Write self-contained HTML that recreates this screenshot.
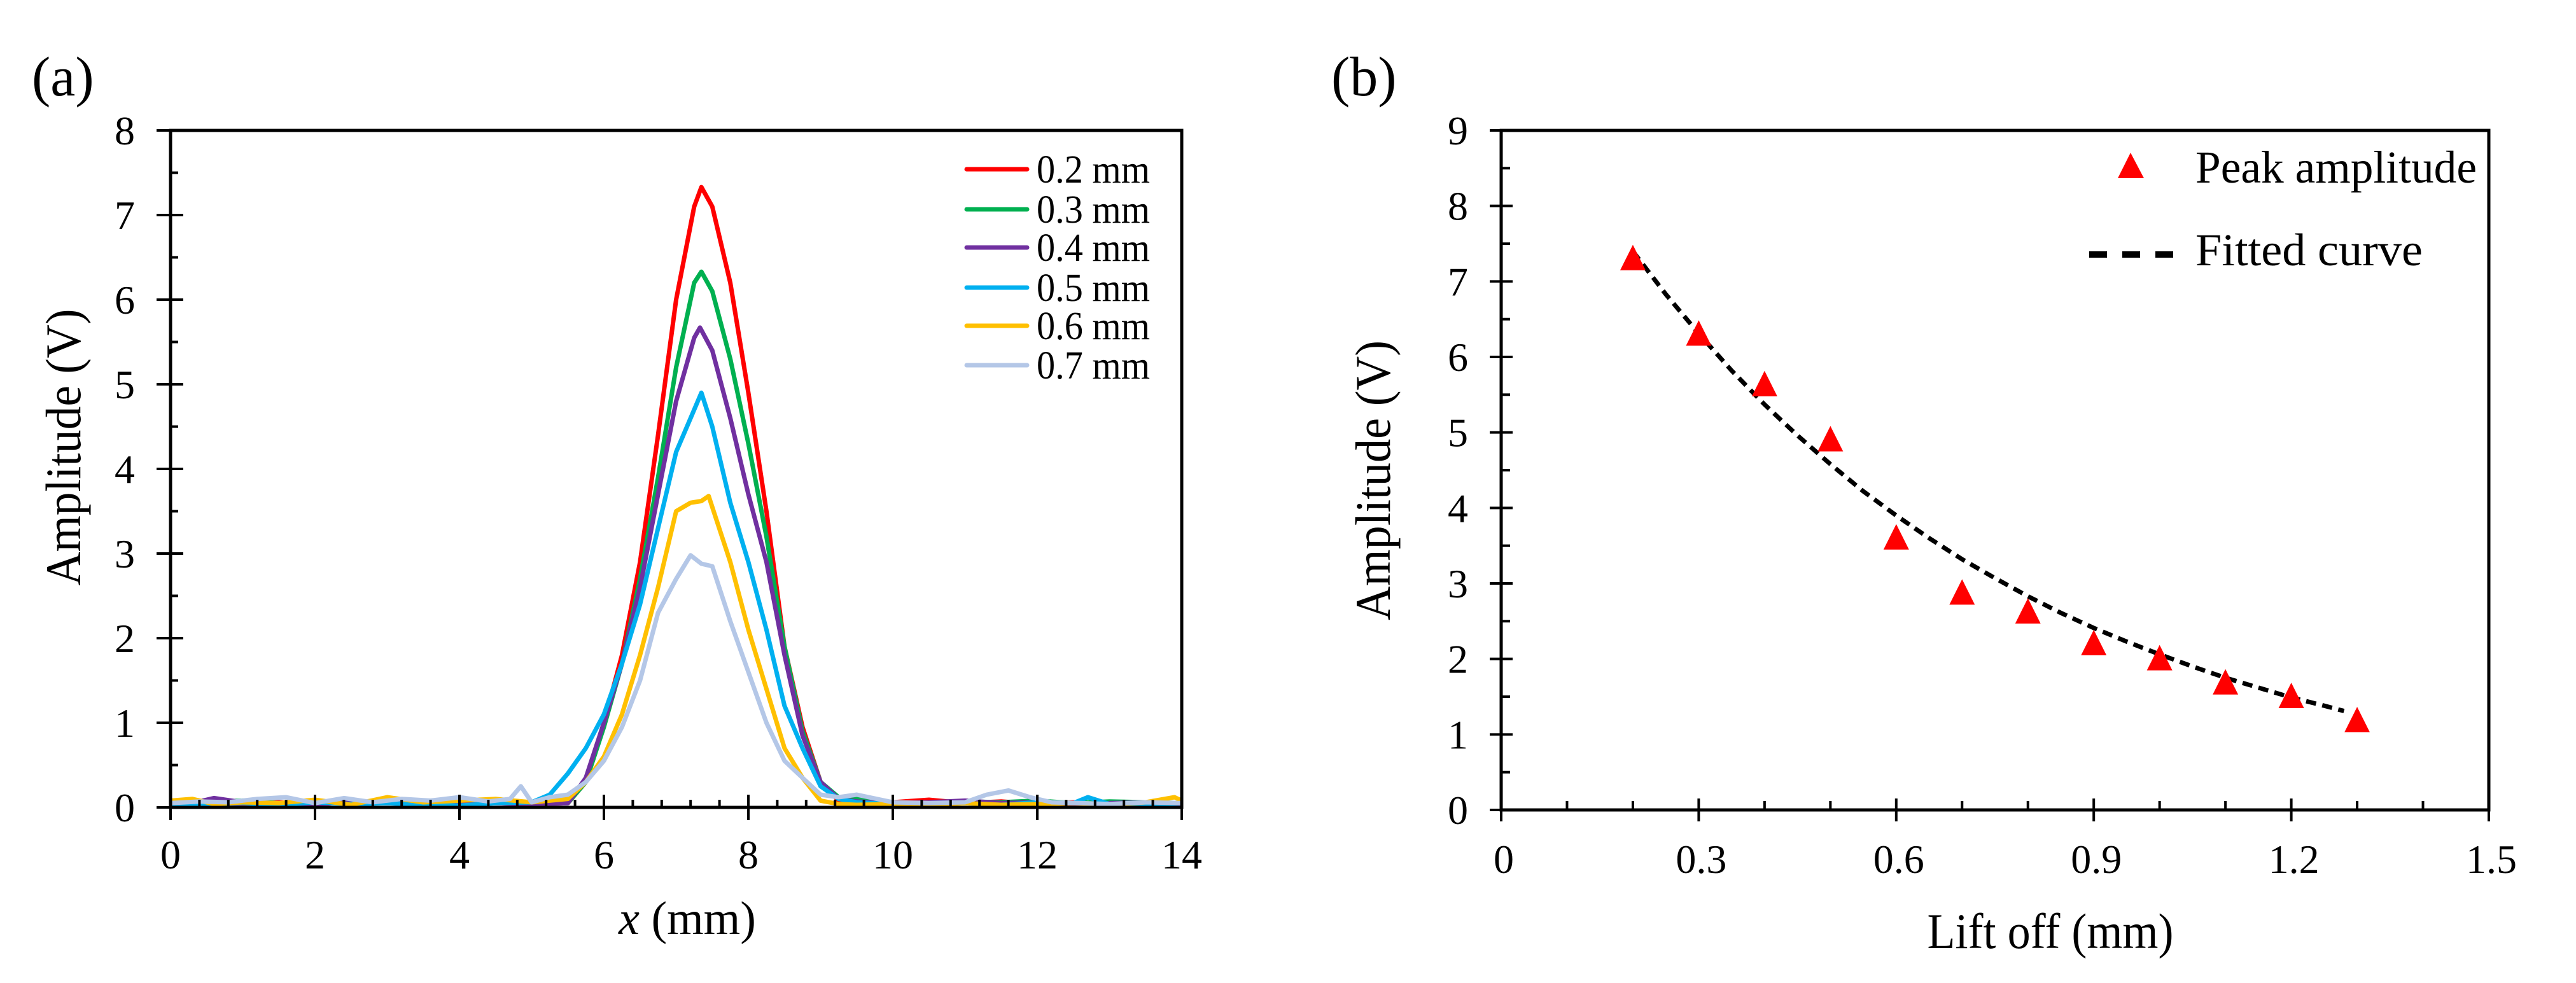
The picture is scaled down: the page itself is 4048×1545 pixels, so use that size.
<!DOCTYPE html>
<html><head><meta charset="utf-8"><style>
html,body{margin:0;padding:0;background:#fff;}
svg,text{font-family:"Liberation Serif","Times New Roman",serif;}
</style></head><body>
<svg id="fig" width="4048" height="1540" viewBox="0 0 4048 1540" xmlns="http://www.w3.org/2000/svg" font-family="Liberation Serif, serif">
<text x="50" y="150" font-size="88" font-family="Liberation Serif, serif">(a)</text>
<text x="2092" y="150" font-size="88" font-family="Liberation Serif, serif">(b)</text>
<g id="pa"></g>
<g id="pb"></g>
</svg>
<script>
// ---------- Panel (a) data ----------
const seriesNames = ["0.2 mm","0.3 mm","0.4 mm","0.5 mm","0.6 mm","0.7 mm"];
const seriesColors = ["#FF0000","#00B050","#7030A0","#00B0F0","#FFC000","#B4C7E7"];
const redX = [0,0.5,1,1.5,2,2.5,3,3.5,4,4.5,5,5.5,5.75,6,6.25,6.5,6.75,7,7.25,7.35,7.5,7.75,8,8.25,8.5,8.75,9,9.25,9.5,10,10.5,11,11.5,12,12.5,13,13.5,14];
const redY = [0.03,0.05,0.04,0.06,0.03,0.07,0.05,0.04,0.06,0.05,0.04,0.05,0.3,1.0,1.8,2.9,4.4,6.0,7.1,7.33,7.1,6.2,4.9,3.5,1.9,0.95,0.3,0.08,0.05,0.06,0.09,0.05,0.07,0.04,0.06,0.05,0.04,0.05];
const greenX = [0,0.5,1,1.5,2,2.5,3,3.5,4,4.5,5,5.5,5.75,6,6.25,6.5,6.75,7,7.25,7.35,7.5,7.75,8,8.25,8.5,8.75,9,9.25,9.5,10,10.5,11,11.5,12,12.5,13,13.5,14];
const greenY = [0.05,0.06,0.08,0.05,0.07,0.06,0.05,0.07,0.06,0.05,0.04,0.05,0.3,0.95,1.7,2.7,3.9,5.2,6.2,6.33,6.1,5.3,4.3,3.2,1.9,0.9,0.3,0.12,0.1,0.06,0.05,0.07,0.06,0.08,0.05,0.07,0.06,0.05];
const purpleX = [0,0.3,0.6,1,1.5,2,2.5,3,3.5,4,4.5,5,5.5,5.75,6,6.25,6.5,6.75,7,7.25,7.33,7.5,7.75,8,8.25,8.5,8.75,9,9.25,9.5,10,10.5,11,11.5,12,12.5,13,13.5,14];
const purpleY = [0.07,0.05,0.11,0.06,0.05,0.04,0.06,0.05,0.04,0.07,0.05,0.04,0.05,0.35,1.0,1.7,2.6,3.7,4.8,5.55,5.67,5.4,4.6,3.7,2.9,1.8,0.85,0.3,0.1,0.07,0.05,0.06,0.08,0.05,0.06,0.04,0.05,0.06,0.04];
const blueX = [0,0.5,1,1.5,2,2.5,3,3.5,4,4.5,5,5.25,5.5,5.75,6,6.25,6.5,6.75,7,7.2,7.35,7.5,7.75,8,8.25,8.5,8.75,9,9.25,9.5,10,10.5,11,11.5,12,12.5,12.7,13,13.5,14];
const blueY = [0.03,0.04,0.05,0.03,0.06,0.04,0.05,0.03,0.02,0.05,0.06,0.15,0.4,0.7,1.1,1.7,2.4,3.3,4.2,4.6,4.9,4.5,3.6,2.9,2.1,1.2,0.7,0.25,0.1,0.06,0.04,0.03,0.05,0.03,0.06,0.05,0.12,0.04,0.03,0.05];
const yellowX = [0,0.3,0.6,1,1.5,2,2.5,3,3.5,4,4.5,5,5.5,5.75,6,6.25,6.5,6.75,7,7.2,7.35,7.45,7.75,8,8.25,8.5,8.75,9,9.25,9.5,10,10.5,11,11.5,12,12.5,13,13.5,13.9,14];
const yellowY = [0.08,0.1,0.04,0.06,0.05,0.09,0.03,0.12,0.06,0.08,0.1,0.06,0.1,0.3,0.6,1.1,1.8,2.6,3.5,3.6,3.62,3.68,2.9,2.1,1.4,0.7,0.35,0.08,0.04,0.03,0.04,0.03,0.05,0.03,0.04,0.05,0.03,0.06,0.12,0.08];
const lightX = [0,0.4,0.8,1.2,1.6,2,2.4,2.8,3.2,3.6,4,4.4,4.7,4.85,5,5.25,5.5,5.75,6,6.25,6.5,6.75,7,7.2,7.35,7.5,7.75,8,8.25,8.5,8.75,9,9.25,9.5,10,10.5,11,11.3,11.6,11.9,12.2,12.6,13,13.5,14];
const lightY = [0.05,0.07,0.06,0.1,0.12,0.05,0.11,0.06,0.1,0.08,0.12,0.07,0.1,0.25,0.06,0.12,0.15,0.3,0.55,0.95,1.5,2.3,2.7,2.98,2.88,2.85,2.2,1.6,1.0,0.55,0.35,0.15,0.12,0.15,0.06,0.05,0.06,0.15,0.2,0.12,0.06,0.05,0.04,0.06,0.05];
const seriesXs = [redX,greenX,purpleX,blueX,yellowX,lightX];
const seriesYs = [redY,greenY,purpleY,blueY,yellowY,lightY];
const aXTicks = [0,2,4,6,8,10,12,14];
const aYTicks = [0,1,2,3,4,5,6,7,8];

// ---------- Panel (b) data ----------
const liftOff = [0.2,0.3,0.4,0.5,0.6,0.7,0.8,0.9,1.0,1.1,1.2,1.3];
const peakAmp = [7.3,6.3,5.63,4.9,3.6,2.87,2.62,2.2,2.0,1.68,1.5,1.18];
const fitX = [0.2,0.25,0.3,0.35,0.4,0.45,0.5,0.55,0.6,0.65,0.7,0.75,0.8,0.85,0.9,0.95,1.0,1.05,1.1,1.15,1.2,1.25,1.28];
const fitY = [7.4,6.83,6.31,5.82,5.37,4.96,4.58,4.22,3.9,3.6,3.32,3.07,2.83,2.61,2.41,2.23,2.06,1.9,1.75,1.62,1.49,1.38,1.31];
const bXTicks = [0,0.3,0.6,0.9,1.2,1.5];
const bXTickLabels = ["0","0.3","0.6","0.9","1.2","1.5"];
const bYTicks = [0,1,2,3,4,5,6,7,8,9];

const NS = "http://www.w3.org/2000/svg";
const FF = "Liberation Serif, serif";
function mk(parent, tag, attrs){const e=document.createElementNS(NS,tag);for(const k in attrs)e.setAttribute(k,attrs[k]);if(tag==='text')e.setAttribute('font-family',FF);parent.appendChild(e);return e;}

// ---------- Panel (a) ----------
(function(){
  const g=document.getElementById('pa');
  const L=268,R=1857,T=205,B=1269,xmax=14,ymax=8;
  const sx=v=>L+(v/xmax)*(R-L), sy=v=>B-(v/ymax)*(B-T);
  for(let i=0;i<seriesXs.length;i++){
    const xs=seriesXs[i], ys=seriesYs[i];
    let d="";
    for(let j=0;j<xs.length;j++) d+=(j?"L":"M")+sx(xs[j]).toFixed(1)+","+sy(ys[j]).toFixed(1);
    const p=mk(g,'path',{d:d,fill:'none',stroke:seriesColors[i],'stroke-width':7,'stroke-linejoin':'round'});
    
    
  }
  const frame=mk(g,'rect',{x:L,y:T,width:R-L,height:B-T,fill:'none',stroke:'#000','stroke-width':5});
  
  
  for(let v=0;v<=xmax+1e-9;v+=0.4){ mk(g,'line',{x1:sx(v),x2:sx(v),y1:B,y2:B-12,stroke:'#000','stroke-width':4}); }
  for(let v=0.5;v<ymax;v+=1){ mk(g,'line',{x1:L,x2:L+12,y1:sy(v),y2:sy(v),stroke:'#000','stroke-width':4}); }
  aXTicks.forEach(v=>{
    mk(g,'line',{x1:sx(v),x2:sx(v),y1:B-20,y2:B+20,stroke:'#000','stroke-width':4});
    const t=mk(g,'text',{x:sx(v),y:1365,'font-size':64,'text-anchor':'middle'});t.textContent=v;
    
    
  });
  aYTicks.forEach(v=>{
    mk(g,'line',{x1:L-22,x2:L+20,y1:sy(v),y2:sy(v),stroke:'#000','stroke-width':4});
    const t=mk(g,'text',{x:212,y:sy(v)+22,'font-size':64,'text-anchor':'end'});t.textContent=v;
    
    
  });
  const yt=mk(g,'text',{x:0,y:0,'font-size':78,'text-anchor':'middle',textLength:435,lengthAdjust:'spacingAndGlyphs',transform:'translate(126,703) rotate(-90)'});
  yt.textContent="Amplitude  (V)";
  
  
  const xt=mk(g,'text',{x:1080,y:1468,'font-size':74,'text-anchor':'middle'});
  xt.innerHTML='<tspan font-style="italic">x</tspan> (mm)';
  
  
  const legRows=[266,329,389,452,512,574];
  for(let i=0;i<seriesNames.length;i++){
    const lg=mk(g,'g',{});
    
    
    mk(lg,'line',{x1:1519,x2:1614,y1:legRows[i],y2:legRows[i],stroke:seriesColors[i],'stroke-width':7,'stroke-linecap':'round'});
    const t=mk(lg,'text',{x:1629,y:legRows[i]+21,'font-size':62,textLength:178,lengthAdjust:'spacingAndGlyphs'});t.textContent=seriesNames[i];
  }
})();

// ---------- Panel (b) ----------
(function(){
  const g=document.getElementById('pb');
  const L=2359,R=3911,T=205,B=1273,xmax=1.5,ymax=9;
  const sx=v=>L+(v/xmax)*(R-L), sy=v=>B-(v/ymax)*(B-T);
  const frame=mk(g,'rect',{x:L,y:T,width:R-L,height:B-T,fill:'none',stroke:'#000','stroke-width':5});
  
  
  for(let k=1;k<15;k++){ const v=k*0.1; if(k%3) mk(g,'line',{x1:sx(v),x2:sx(v),y1:B,y2:B-14,stroke:'#000','stroke-width':4}); }
  for(let v=0.5;v<ymax;v+=1){ mk(g,'line',{x1:L,x2:L+14,y1:sy(v),y2:sy(v),stroke:'#000','stroke-width':4}); }
  bXTicks.forEach((v,i)=>{
    mk(g,'line',{x1:sx(v),x2:sx(v),y1:B-18,y2:B+18,stroke:'#000','stroke-width':4});
    const t=mk(g,'text',{x:sx(v)+4,y:1372,'font-size':64,'text-anchor':'middle'});t.textContent=bXTickLabels[i];
    
    
  });
  bYTicks.forEach(v=>{
    mk(g,'line',{x1:L-18,x2:L+18,y1:sy(v),y2:sy(v),stroke:'#000','stroke-width':4});
    const t=mk(g,'text',{x:2307,y:sy(v)+22,'font-size':64,'text-anchor':'end'});t.textContent=v;
    
    
  });
  let d="";
  for(let j=0;j<fitX.length;j++) d+=(j?"L":"M")+sx(fitX[j]).toFixed(1)+","+sy(fitY[j]).toFixed(1);
  const fc=mk(g,'path',{d:d,fill:'none',stroke:'#000','stroke-width':7,'stroke-dasharray':'16 10'});
  
  
  for(let i=0;i<liftOff.length;i++){
    const cx=sx(liftOff[i]), cy=sy(peakAmp[i]);
    const tri=mk(g,'polygon',{points:`${cx},${cy-22} ${cx-20},${cy+18} ${cx+20},${cy+18}`,fill:'#FF0000'});
    
    
  }
  const yt=mk(g,'text',{x:0,y:0,'font-size':78,'text-anchor':'middle',textLength:440,lengthAdjust:'spacingAndGlyphs',transform:'translate(2184,755) rotate(-90)'});
  yt.textContent="Amplitude  (V)";
  
  
  const xt=mk(g,'text',{x:3222,y:1490,'font-size':78,'text-anchor':'middle',textLength:387,lengthAdjust:'spacingAndGlyphs'});
  xt.textContent="Lift off (mm)";
  
  
  const l1=mk(g,'g',{});
  
  
  mk(l1,'polygon',{points:'3348,240 3328,280 3369,280',fill:'#FF0000'});
  const t1=mk(l1,'text',{x:3450,y:287,'font-size':72,textLength:442,lengthAdjust:'spacingAndGlyphs'});t1.textContent="Peak amplitude";
  const l2=mk(g,'g',{});
  
  
  mk(l2,'line',{x1:3283,x2:3415,y1:400,y2:400,stroke:'#000','stroke-width':10,'stroke-dasharray':'28 24'});
  const t2=mk(l2,'text',{x:3450,y:417,'font-size':72,textLength:357,lengthAdjust:'spacingAndGlyphs'});t2.textContent="Fitted curve";
})();
</script>
</body></html>
